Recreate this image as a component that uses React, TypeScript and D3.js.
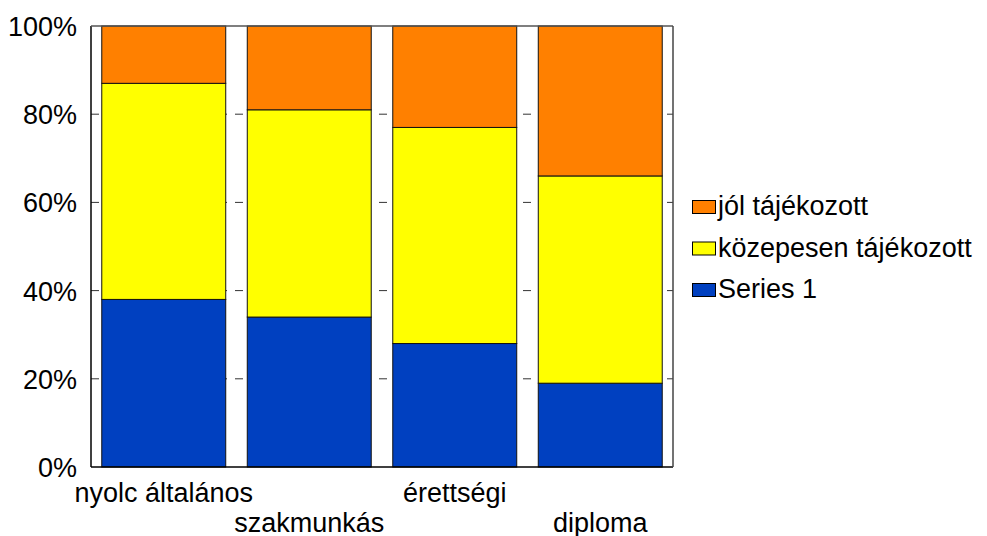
import React from "react";
import * as d3 from "d3";

const categories = ["nyolc általános", "szakmunkás", "érettségi", "diploma"];
const seriesNames = ["Series 1", "közepesen tájékozott", "jól tájékozott"];
const series1 = [38, 34, 28, 19];
const kozepesen = [49, 47, 49, 47];
const jol = [13, 19, 23, 34];
const yTicks = [0, 20, 40, 60, 80, 100];
const colors = ["#0040C0", "#FFFF00", "#FF8000"];

export default function App() {
  const W = 987, H = 536;
  const left = 91, right = 673, top = 26, bottom = 467;
  const x = d3.scaleBand<string>().domain(categories).range([left, right]).paddingInner(0.148).paddingOuter(0.074);
  const y = d3.scaleLinear().domain([0, 100]).range([bottom, top]);
  const rows = categories.map((c, i) => ({ cat: c, "Series 1": series1[i], "közepesen tájékozott": kozepesen[i], "jól tájékozott": jol[i] }));
  const stacked = d3.stack<any>().keys(seriesNames)(rows);
  const font = "Liberation Sans, Arial, sans-serif";
  const fs = 27;
  const legendOrder = [2, 1, 0];
  return (
    <svg width={W} height={H} style={{ position: "absolute", left: 0, top: 0 }}>
      <rect x={0} y={0} width={W} height={H} fill="#fff" />
      {yTicks.slice(1, -1).map((t) => (
        <line key={t} x1={left} x2={right} y1={y(t)} y2={y(t)} stroke="#333" strokeWidth={1} strokeDasharray="8,8" />
      ))}
      {stacked.map((s, si) =>
        s.map((d, i) => (
          <rect key={si + "-" + i} x={x(categories[i])!} width={x.bandwidth()} y={y(d[1])} height={y(d[0]) - y(d[1])}
            fill={colors[si]} stroke="#111" strokeWidth={1} />
        ))
      )}
      <line x1={left} x2={left} y1={top} y2={bottom} stroke="#000" strokeWidth={1.5} />
      <line x1={left} x2={right} y1={bottom} y2={bottom} stroke="#000" strokeWidth={1.5} />
      <line x1={left} x2={right} y1={top} y2={top} stroke="#555" strokeWidth={1.5} />
      <line x1={right} x2={right} y1={top} y2={bottom} stroke="#444" strokeWidth={1.5} />
      {yTicks.map((t) => (
        <text key={t} x={77} y={y(t) + 10} textAnchor="end" fontFamily={font} fontSize={fs} fill="#000">{t}%</text>
      ))}
      {categories.map((c, i) => (
        <text key={c} x={x(c)! + x.bandwidth() / 2} y={i % 2 === 0 ? 502 : 532} textAnchor="middle" fontFamily={font} fontSize={fs} fill="#000">{c}</text>
      ))}
      {legendOrder.map((si, k) => (
        <g key={si} transform={`translate(692, ${200 + k * 41.5})`}>
          <rect x={0.5} y={0.5} width={23} height={13} fill={colors[si]} stroke="#000" strokeWidth={1} />
          <text x={26} y={15} fontFamily={font} fontSize={fs} fill="#000">{seriesNames[si]}</text>
        </g>
      ))}
    </svg>
  );
}
